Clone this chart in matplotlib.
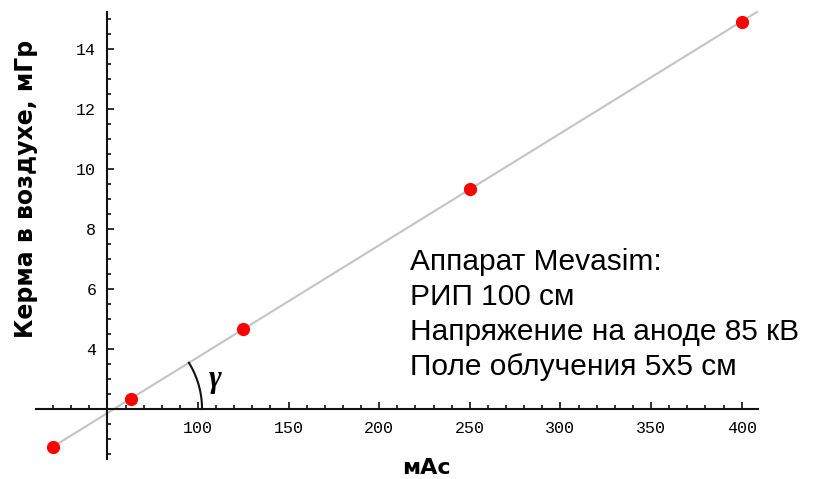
import numpy as np
import matplotlib.pyplot as plt
from matplotlib.ticker import FixedLocator, MultipleLocator, NullFormatter

# measured points: exposure (mAs) vs air kerma (mGy)
mas = [20, 63, 125, 250, 400]
kerma = [0.72, 2.35, 4.68, 9.35, 14.9]

x_ticks = [100, 150, 200, 250, 300, 350, 400]
y_ticks = [4, 6, 8, 10, 12, 14]

info_lines = [
    "Аппарат Mevasim:",
    "РИП 100 см",
    "Напряжение на аноде 85 кВ",
    "Поле облучения 5x5 см",
]

fig = plt.figure(figsize=(8.13, 4.79), dpi=100)
ax = fig.add_axes([0.04428, 0.04154, 0.8880, 0.9344])
ax.set_xlim(10.6, 409)
ax.set_ylim(0.33, 15.25)

# axes cross at (50, 2)
for side in ("top", "right"):
    ax.spines[side].set_visible(False)
ax.spines["left"].set_position(("data", 50))
ax.spines["bottom"].set_position(("data", 2))
for side in ("left", "bottom"):
    ax.spines[side].set_linewidth(1.5)
    ax.spines[side].set_color("#111111")

ax.xaxis.set_major_locator(FixedLocator(x_ticks))
ax.xaxis.set_minor_locator(MultipleLocator(10))
ax.yaxis.set_major_locator(FixedLocator(y_ticks))
ax.yaxis.set_minor_locator(MultipleLocator(0.5))
ax.xaxis.set_minor_formatter(NullFormatter())
ax.yaxis.set_minor_formatter(NullFormatter())

tick_font = {"family": "Liberation Mono", "size": 12}
ax.tick_params(which="both", direction="in", color="#111111", width=1.2)
ax.tick_params(which="major", length=5)
ax.tick_params(which="minor", length=3)
ax.tick_params(axis="x", pad=8.8)
ax.tick_params(axis="y", pad=8)
ax.set_xticklabels([str(v) for v in x_ticks], fontdict=tick_font)
ax.set_yticklabels([str(v) for v in y_ticks], fontdict=tick_font)

# linear fit through the points
slope, icpt = np.polyfit(mas, kerma, 1)
xf = np.array([18, 408.5])
ax.plot(xf, slope * xf + icpt, color="#c4c4c4", lw=1.5, zorder=2, clip_on=False)
ax.plot(mas, kerma, "o", color="#ff0000", ms=8.5, mec="#ff0000", zorder=3, clip_on=False)

# angle gamma between the fit line and the x axis (drawn as a circle on screen)
fig.canvas.draw()
x0 = (2 - icpt) / slope
cx, cy = ax.transData.transform((x0, 2))
sx, sy = ax.transData.transform((x0 + 1, 2 + slope)) - np.array([cx, cy])
ang = np.arctan2(sy, sx)
r = 88
t = np.linspace(0, ang, 60)
arc = ax.transData.inverted().transform(np.column_stack([cx + r * np.cos(t), cy + r * np.sin(t)]))
ax.plot(arc[:, 0], arc[:, 1], color="#111111", lw=1.5, zorder=2)
ax.text(x0 + 56, 3.0, "γ", fontsize=22, family="Liberation Serif", style="italic",
        fontweight="bold", ha="center", va="center")

ax.set_ylabel("Керма в воздухе, мГр", fontsize=17, fontweight="bold",
              family="DejaVu Sans")
ax.yaxis.set_label_coords(0.003, 0.6046)
ax.annotate("мАс", xy=(426.5, 5), xycoords="figure pixels", fontsize=16,
            fontweight="bold", family="DejaVu Sans", ha="center", va="baseline")

for i, line in enumerate(info_lines):
    ax.annotate(line, xy=(410, 479 - 270 - 35 * i), xycoords="figure pixels",
                fontsize=21.5, family="Liberation Sans", va="baseline", ha="left")

fig.savefig("out.png", dpi=100, facecolor="white")
